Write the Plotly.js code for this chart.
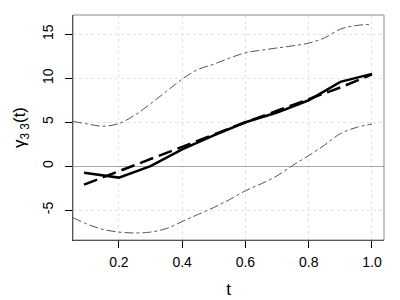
<!DOCTYPE html>
<html><head><meta charset="utf-8">
<script src="https://cdn.plot.ly/plotly-3.0.1.min.js"></script>
<style>html,body{margin:0;padding:0;background:#fff}#c{width:400px;height:300px}</style>
</head><body><div id="c"></div>
<script>
const tEst = [0.09, 0.2, 0.3, 0.4, 0.5, 0.6, 0.7, 0.8, 0.9, 1.0];
const estimate = [-0.75, -1.3, 0.0, 1.9, 3.5, 5.0, 6.1, 7.5, 9.6, 10.5];
const truth = [-2.1, -0.6, 0.8, 2.2, 3.6, 5.0, 6.3, 7.6, 8.95, 10.45];
const tBand = [0.055, 0.1, 0.15, 0.2, 0.25, 0.3, 0.35, 0.4, 0.45, 0.5, 0.55, 0.6, 0.65, 0.7, 0.75, 0.8, 0.85, 0.9, 0.95, 1.0];
const upper = [5.1, 4.8, 4.55, 4.85, 5.8, 7.1, 8.5, 9.9, 11.0, 11.6, 12.3, 12.9, 13.2, 13.45, 13.7, 14.0, 14.6, 15.6, 16.0, 16.15];
const lower = [-5.85, -6.6, -7.2, -7.5, -7.6, -7.5, -7.1, -6.3, -5.5, -4.7, -3.8, -2.8, -2.0, -1.1, 0.1, 1.2, 2.4, 3.7, 4.4, 4.8];
const xTicks = [0.2, 0.4, 0.6, 0.8, 1.0];
const xTickText = ['0.2', '0.4', '0.6', '0.8', '1.0'];
const yTicks = [-5, 0, 5, 10, 15];
const yTickText = ['-5', '0', '5', '10', '15'];

const traces = [
  {x: tBand, y: upper, mode: 'lines', line: {color: '#555', width: 1, dash: 'dashdot', shape: 'spline'}},
  {x: tBand, y: lower, mode: 'lines', line: {color: '#555', width: 1, dash: 'dashdot', shape: 'spline'}},
  {x: tEst, y: estimate, mode: 'lines', line: {color: '#000', width: 2.5}},
  {x: tEst, y: truth, mode: 'lines', line: {color: '#000', width: 2.5, dash: '14px,6px'}}
];
const font = {family: 'Liberation Sans, Arial, sans-serif', size: 14, color: '#000'};
const layout = {
  width: 400, height: 300,
  margin: {l: 73, r: 16, t: 15, b: 60},
  paper_bgcolor: '#fff', plot_bgcolor: '#fff',
  showlegend: false, font: font,
  xaxis: {
    range: [0.055, 1.038], tickvals: xTicks, ticktext: xTickText,
    ticks: 'outside', ticklen: 7, tickcolor: '#000', tickfont: font, ticklabelstandoff: 2,
    showgrid: true, gridcolor: '#e2e2e2', griddash: 'dot', gridwidth: 1,
    zeroline: false, showline: true, linecolor: '#222', linewidth: 1, mirror: false,
    title: {text: 't', font: {family: font.family, size: 17, color: '#000'}, standoff: 14}
  },
  yaxis: {
    range: [-8.4, 17.2], tickvals: yTicks, ticktext: yTickText, tickangle: -90,
    ticks: 'outside', ticklen: 7, tickcolor: '#000', tickfont: font, ticklabelstandoff: 6,
    showgrid: true, gridcolor: '#e2e2e2', griddash: 'dot', gridwidth: 1,
    zeroline: true, zerolinecolor: '#aaa', zerolinewidth: 1.2,
    showline: true, linecolor: '#222', linewidth: 1, mirror: false,
    title: {text: 'γ<sub>3 3</sub>(t)', font: {family: font.family, size: 17, color: '#000'}, standoff: 10}
  },
  shapes: [{type: 'rect', xref: 'paper', yref: 'paper', x0: 0, x1: 1, y0: 0, y1: 1, line: {color: '#888', width: 1}}]
};
Plotly.newPlot('c', traces, layout, {displayModeBar: false, staticPlot: true});
</script></body></html>
